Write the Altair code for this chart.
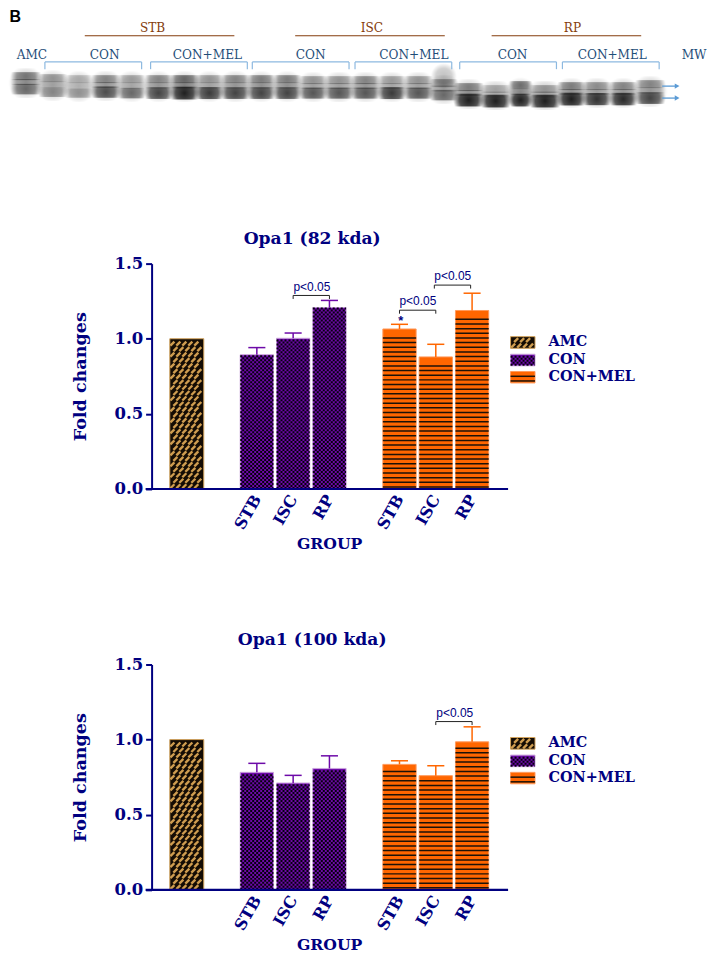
import altair as alt
import pandas as pd

NAVY = "#000080"
SERIF = "DejaVu Serif"
GEL_BLUE = "#1f4e79"
BROWN = "#843c0c"
ARROW = "#5b9bd5"

# ---------- bar chart values ----------
AMC_VALUE = 1.0
TOP_CON = [0.893, 1.003, 1.208]
TOP_CON_ERR = [0.941, 1.038, 1.255]
TOP_MEL = [1.065, 0.879, 1.188]
TOP_MEL_ERR = [1.096, 0.963, 1.303]
BOT_CON = [0.782, 0.711, 0.808]
BOT_CON_ERR = [0.842, 0.762, 0.892]
BOT_MEL = [0.835, 0.760, 0.985]
BOT_MEL_ERR = [0.859, 0.826, 1.085]
ISCHEMIA = ["STB", "ISC", "RP"]
LEGEND = ["AMC", "CON", "CON+MEL"]
# significance brackets: left slot, right slot, top value
TOP_BRACKETS = [(2.93, 3.93, 1.288), (5.86, 6.86, 1.19), (6.82, 7.82, 1.357)]
BOT_BRACKETS = [(6.86, 7.86, 1.12)]

# ---------- gel lanes: centre, width, upper y, lower y, upper dark, lower dark ----------
LANE_X = [24, 51, 77, 104, 130, 157, 183, 208, 234, 260, 286, 312, 338,
          364.5, 391, 417.5, 443, 468, 495, 520, 544.5, 571, 596.5, 623, 650]
LANE_W = [23, 22, 21, 22, 21, 21, 22, 21, 22, 21, 21, 21, 22,
          22, 21, 22, 21, 23, 23, 16, 24, 21, 22, 21, 23]
LANE_UP = [71, 73, 74, 74, 74, 74, 74, 74, 74, 74, 74, 75, 75,
           75, 75, 75, 78, 82, 84, 80, 84, 81, 81, 81, 79]
LANE_LO = [84, 87, 88, 87, 88, 88, 88, 88, 88, 88, 88, 88, 88,
           88, 88, 88, 90, 95, 96, 95, 96, 94, 94, 94, 93]
LANE_DU = [.65, .45, .3, .55, .4, .55, .75, .45, .55, .6, .6, .45, .45,
           .55, .4, .45, .5, .6, .35, .7, .45, .6, .5, .55, .55]
LANE_DL = [.6, .45, .38, .75, .6, .8, 1, .85, .8, .8, .8, .7, .7,
           .7, .85, .7, .6, 1, 1, 1, 1, 1, .9, .95, .8]
GEL_BRACKETS = [(43, 140), (149, 246), (251, 348), (354, 451), (459, 556), (562, 659)]
GEL_GROUPS = [("CON", 103), ("CON+MEL", 206), ("CON", 309.5), ("CON+MEL", 413), ("CON", 512), ("CON+MEL", 612)]
REGIONS = [("STB", 151, 83, 233), ("ISC", 371, 294, 444), ("RP", 572, 491, 641)]

# ---------- layout constants ----------
W = 706
PLOT_H = 226
PX_X = 36.4          # px per slot
SLOT0 = 185.3        # page x of slot 0
PX_Y = PLOT_H / 1.5  # px per unit
GROUP_SLOTS = {"CON": [1.93, 2.93, 3.93], "CON+MEL": [5.86, 6.86, 7.86]}
HALF = 0.458


def sx(page_x):
    return (page_x - SLOT0) / PX_X


X_DOMAIN = [sx(8), sx(8 + W)]
xs = alt.Scale(domain=X_DOMAIN, nice=False, zero=False)
ys = alt.Scale(domain=[0, 1.5], nice=False)

tick_vals = GROUP_SLOTS["CON"] + GROUP_SLOTS["CON+MEL"]
lab = {str(s): n for s, n in zip(tick_vals, ISCHEMIA * 2)}
lab_expr = "{" + ",".join(f"'{k}':'{v}'" for k, v in lab.items()) + "}[''+datum.value]"
x_axis = alt.Axis(
    values=tick_vals, labelExpr=lab_expr, domain=False, ticks=False, grid=False,
    labelAngle=-60, labelAlign="right", labelBaseline="middle", labelPadding=7,
    labelFont=SERIF, labelFontWeight="bold", labelFontSize=16, labelColor=NAVY,
    labelOverlap=False, labelFlush=False, labelBound=False,
    titleFont=SERIF, titleFontWeight="bold", titleFontSize=15.7, titleColor=NAVY,
    titleX=320, titleY=48, titleAnchor="middle")
y_axis = alt.Axis(
    values=[0, .5, 1, 1.5], format=".1f", offset=-142, grid=False,
    domainColor=NAVY, domainWidth=2, tickColor=NAVY, tickWidth=2, tickSize=6,
    labelFont=SERIF, labelFontWeight="bold", labelFontSize=16.5, labelColor=NAVY, labelPadding=3,
    titleFont=SERIF, titleFontWeight="bold", titleFontSize=17.6, titleColor=NAVY, titlePadding=25)
X = lambda f="x": alt.X(f"{f}:Q", scale=xs, title="GROUP", axis=x_axis)
Y = lambda f="y": alt.Y(f"{f}:Q", scale=ys, title="Fold changes", axis=y_axis)


def checker(rects):
    rows = []
    for x0, x1, y0, y1 in rects:
        n = int((y1 - y0) * PX_Y / 2)
        for i in range(n):
            rows.append({"x": x0, "x2": x1, "y": y0 + (i + .5) * 2 / PX_Y, "odd": i % 2})
    return pd.DataFrame(rows)


def stripes(rects):
    rows = []
    for x0, x1, y0, y1 in rects:
        n = int(((y1 - y0) * PX_Y - 2) / 4.67)
        for i in range(n):
            rows.append({"x": x0, "x2": x1, "y": y0 + (i * 4.67 + 2) / PX_Y})
    return pd.DataFrame(rows)


def hatch(rects):
    rows = []
    for x0, x1, y0, y1 in rects:
        hx, hy = 2.0 / PX_X, 2.0 / PX_Y
        rstep, cstep = 5.5, 6.0
        nrow = int((y1 - y0) * PX_Y / rstep)
        for r in range(nrow):
            cy = y0 + (r + .5) * rstep / PX_Y
            cx = x0 + (2.6 + (r % 2) * cstep / 2) / PX_X
            while cx + hx <= x1 and cy + hy <= y1 + 1e-6 and cy - hy >= y0 - 1e-6:
                rows.append({"x": cx - hx, "x2": cx + hx, "y": cy - hy, "y2": cy + hy})
                cx += cstep / PX_X
    return pd.DataFrame(rows)


def panel(title, con, con_err, mel, mel_err, brackets, texts, star=None):
    bars, errs = [], []
    bars.append({"g": "AMC", "x": -HALF - .01, "x2": HALF + .01, "y": AMC_VALUE, "y0": 0})
    for g, vals, evs in (("CON", con, con_err), ("CON+MEL", mel, mel_err)):
        for s, v, e in zip(GROUP_SLOTS[g], vals, evs):
            bars.append({"g": g, "x": s - HALF, "x2": s + HALF, "y": v, "y0": 0})
            errs.append({"g": g, "x": s, "y": v, "y2": e, "xa": s - .235, "xb": s + .235})
    bars = pd.DataFrame(bars)
    errs = pd.DataFrame(errs)

    # legend swatches, in chart units
    sw_x0, sw_x1 = sx(510), sx(534.5)
    sw_tops = [153 / 150.9, 135.3 / 150.9, 118 / 150.9]
    sw_bots = [141.3 / 150.9, 123.7 / 150.9, 106.5 / 150.9]
    swatches = pd.DataFrame([
        {"g": g, "x": sw_x0, "x2": sw_x1, "y": t, "y0": b}
        for g, t, b in zip(LEGEND, sw_tops, sw_bots)])
    legend_text = pd.DataFrame([
        {"t": g, "x": sx(548), "y": (t + b) / 2} for g, t, b in zip(LEGEND, sw_tops, sw_bots)])

    def rects(df, g):
        return [(r.x, r.x2, r.y0, r.y) for r in df[df.g == g].itertuples()]

    all_amc = rects(bars, "AMC") + rects(swatches, "AMC")
    all_con = rects(bars, "CON") + rects(swatches, "CON")
    all_mel = rects(bars, "CON+MEL") + rects(swatches, "CON+MEL")

    col = alt.Color("g:N", legend=None, scale=alt.Scale(
        domain=LEGEND, range=["#140c04", "#6d0aa8", "#ff6600"]))
    strk = alt.Stroke("g:N", legend=None, scale=alt.Scale(
        domain=LEGEND, range=["#d2a35c", "#c9a3dc", "#ff9a5c"]))
    errc = alt.Color("g:N", legend=None, scale=alt.Scale(
        domain=LEGEND, range=["#c8974a", "#8a20a8", "#ff7733"]))

    both = pd.concat([bars, swatches])
    base = alt.Chart(both).mark_rect(strokeWidth=1).encode(
        x=X(), x2="x2:Q", y=Y(), y2="y0:Q", color=col, stroke=strk)

    chk = checker(all_con)
    chk0 = alt.Chart(chk[chk.odd == 0]).mark_rule(color="#07000f", strokeWidth=2, strokeDash=[2, 2]).encode(
        x=X(), x2="x2:Q", y=Y())
    chk1 = alt.Chart(chk[chk.odd == 1]).mark_rule(color="#07000f", strokeWidth=2, strokeDash=[2, 2],
                                                  strokeDashOffset=2).encode(x=X(), x2="x2:Q", y=Y())
    st = alt.Chart(stripes(all_mel)).mark_rule(color="#1c1208", strokeWidth=1.5).encode(
        x=X(), x2="x2:Q", y=Y())
    ha = alt.Chart(hatch(all_amc)).mark_rule(color="#cf9d50", strokeWidth=2.4).encode(
        x=X(), x2="x2:Q", y=Y(), y2="y2:Q")

    err_line = alt.Chart(errs).mark_rule(strokeWidth=1.5).encode(x=X(), y=Y(), y2="y2:Q", color=errc)
    err_cap = alt.Chart(errs).mark_rule(strokeWidth=1.5).encode(x=X("xa"), x2="xb:Q", y=Y("y2"), color=errc)

    baseline = alt.Chart(pd.DataFrame({"x": [sx(144)], "x2": [sx(507.5)], "y": [0.0]})).mark_rule(
        color=NAVY, strokeWidth=2.2).encode(x=X(), x2="x2:Q", y=Y())

    br_rows, leg_rows = [], []
    drop = 3.5 / PX_Y
    for a, b, t in brackets:
        br_rows.append({"x": a, "x2": b, "y": t})
        leg_rows += [{"x": a, "y": t, "y2": t - drop}, {"x": b, "y": t, "y2": t - drop}]
    br = alt.Chart(pd.DataFrame(br_rows)).mark_rule(color="#222222", strokeWidth=1).encode(
        x=X(), x2="x2:Q", y=Y())
    br_leg = alt.Chart(pd.DataFrame(leg_rows)).mark_rule(color="#222222", strokeWidth=1).encode(
        x=X(), y=Y(), y2="y2:Q")
    ptext = alt.Chart(pd.DataFrame(texts)).mark_text(
        font="Liberation Sans", fontSize=12, color=NAVY, baseline="alphabetic").encode(
        x=X(), y=Y(), text="t:N")
    leg_t = alt.Chart(legend_text).mark_text(
        font=SERIF, fontWeight="bold", fontSize=14.5, color=NAVY, align="left", baseline="middle").encode(
        x=X(), y=Y(), text="t:N")

    layers = [base, chk0, chk1, st, ha, err_line, err_cap, baseline, br, br_leg, ptext, leg_t]
    if star:
        layers.append(alt.Chart(pd.DataFrame([star])).mark_text(
            font="Liberation Sans", fontWeight="bold", fontSize=13, color=NAVY, baseline="alphabetic").encode(
            x=X(), y=Y(), text="t:N"))

    return alt.layer(*layers).properties(
        width=W, height=PLOT_H,
        title=alt.TitleParams(title, anchor="start", frame="group", align="center", dx=303, offset=8,
                              font=SERIF, fontWeight="bold", fontSize=17.2, color=NAVY))


# ---------- gel panel ----------
GEL_H = 138
gx = alt.Scale(domain=[8, 8 + W], nice=False, zero=False)
gy = alt.Scale(domain=[8 + GEL_H, 8], nice=False, zero=False)
GX = lambda f="x": alt.X(f"{f}:Q", scale=gx, axis=None)
GY = lambda f="y": alt.Y(f"{f}:Q", scale=gy, axis=None)

soft = alt.RadialGradient(
    gradient="radial", x1=.5, y1=.5, r1=0, x2=.5, y2=.5, r2=.5,
    stops=[alt.GradientStop(offset=0, color="rgba(10,10,10,1)"),
           alt.GradientStop(offset=.6, color="rgba(10,10,10,.75)"),
           alt.GradientStop(offset=1, color="rgba(10,10,10,0)")])

band_rows = []
for x, w, u, l, du, dl in zip(LANE_X, LANE_W, LANE_UP, LANE_LO, LANE_DU, LANE_DL):
    hw = w / 2 + 4
    mid = u + (l - u) * .45
    band_rows.append({"x": x - hw - 2, "x2": x + hw + 2, "y": u - 8, "y2": l + 9, "o": .2})
    band_rows.append({"x": x - hw, "x2": x + hw, "y": u - 4, "y2": u + 4, "o": du * .75})
    band_rows.append({"x": x - hw, "x2": x + hw, "y": mid - 3, "y2": mid + 3, "o": du * .55})
    thick = 3.6 + 2.8 * dl
    band_rows.append({"x": x - hw, "x2": x + hw, "y": l - thick, "y2": l + thick, "o": dl * .9})
band_rows.append({"x": 430, "x2": 456, "y": 58, "y2": 84, "o": .25})
gel_bands = alt.Chart(pd.DataFrame(band_rows)).mark_rect(fill=soft).encode(
    x=GX(), x2="x2:Q", y=GY(), y2="y2:Q", opacity=alt.Opacity("o:Q", scale=None, legend=None))

b_top = pd.DataFrame([{"x": a, "x2": b, "y": 56.7} for a, b in GEL_BRACKETS])
b_leg = pd.DataFrame([{"x": v, "y": 56.7, "y2": 64} for p in GEL_BRACKETS for v in p])
gel_b1 = alt.Chart(b_top).mark_rule(color="#8db9e0", strokeWidth=1.2).encode(x=GX(), x2="x2:Q", y=GY())
gel_b2 = alt.Chart(b_leg).mark_rule(color="#8db9e0", strokeWidth=1.2).encode(x=GX(), y=GY(), y2="y2:Q")

group_text = pd.DataFrame(
    [{"t": "AMC", "x": 30}] + [{"t": t, "x": x} for t, x in GEL_GROUPS] + [{"t": "MW", "x": 694}])
group_text["y"] = 54
gel_g = alt.Chart(group_text).mark_text(font="DejaVu Serif Condensed", fontSize=13.5, color=GEL_BLUE,
                                        baseline="alphabetic").encode(x=GX(), y=GY(), text="t:N")
reg = pd.DataFrame([{"t": t, "x": c, "xa": a, "xb": b, "ty": 27, "y": 30.5} for t, c, a, b in REGIONS])
gel_r = alt.Chart(reg).mark_text(font="DejaVu Serif Condensed", fontSize=13.5, color=BROWN,
                                 baseline="alphabetic").encode(x=GX(), y=GY("ty"), text="t:N")
gel_l = alt.Chart(reg).mark_rule(color=BROWN, strokeWidth=1.2).encode(x=GX("xa"), x2="xb:Q", y=GY())
arrows = pd.DataFrame({"x": [662, 662], "x2": [676, 676], "y": [81, 93]})
gel_a = alt.Chart(arrows).mark_rule(color=ARROW, strokeWidth=1.3).encode(x=GX(), x2="x2:Q", y=GY())
heads = alt.Chart(pd.DataFrame({"x": [677, 677], "y": [81, 93]})).mark_point(
    shape="triangle-right", filled=True, color=ARROW, size=30, opacity=1).encode(x=GX(), y=GY())
letter = alt.Chart(pd.DataFrame({"t": ["B"], "x": [7.5], "y": [17]})).mark_text(
    font="Liberation Sans", fontWeight="bold", fontSize=16, color="black", align="left",
    baseline="alphabetic").encode(x=GX(), y=GY(), text="t:N")

gel = alt.layer(gel_bands, gel_b1, gel_b2, gel_g, gel_r, gel_l, gel_a, heads, letter).properties(
    width=W, height=GEL_H)

top = panel("Opa1 (82 kda)", TOP_CON, TOP_CON_ERR, TOP_MEL, TOP_MEL_ERR, TOP_BRACKETS,
            [{"t": "p<0.05", "x": sx(310.7), "y": 1.32},
             {"t": "p<0.05", "x": sx(417), "y": 1.227},
             {"t": "p<0.05", "x": sx(452), "y": 1.391}],
            star={"t": "*", "x": sx(400), "y": 1.09})
bottom = panel("Opa1 (100 kda)", BOT_CON, BOT_CON_ERR, BOT_MEL, BOT_MEL_ERR, BOT_BRACKETS,
               [{"t": "p<0.05", "x": sx(454), "y": 1.15}])

chart = alt.vconcat(gel, top, bottom, spacing=79).properties(padding=0).configure_view(stroke=None)
chart.save("out.html", embed_options={"renderer": "svg", "actions": False})
